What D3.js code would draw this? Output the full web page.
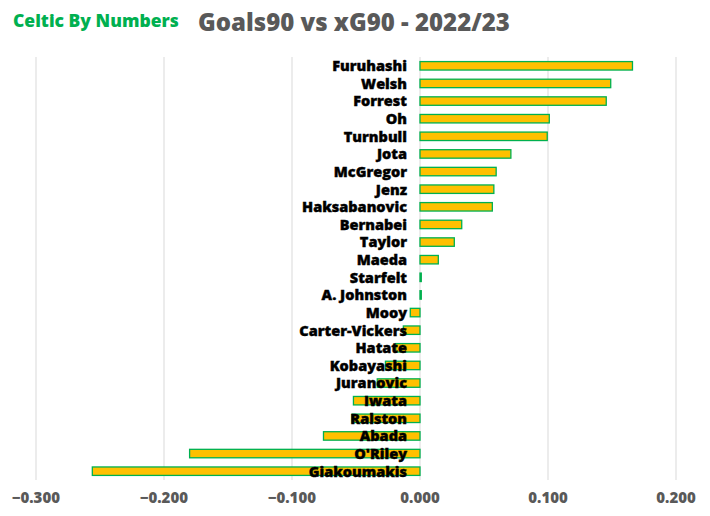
<!DOCTYPE html>
<html><head><meta charset="utf-8">
<script src="https://cdn.jsdelivr.net/npm/d3@7"></script>
<style>body{margin:0;background:#fff}</style>
</head><body>
<svg id="c" width="710" height="516"></svg>
<script>
const players = ["Furuhashi","Welsh","Forrest","Oh","Turnbull","Jota","McGregor","Jenz","Haksabanovic","Bernabei","Taylor","Maeda","Starfelt","A. Johnston","Mooy","Carter-Vickers","Hatate","Kobayashi","Juranovic","Iwata","Ralston","Abada","O'Riley","Giakoumakis"];
const diffs = [0.166,0.149,0.1455,0.101,0.0994,0.071,0.0595,0.0577,0.0565,0.0326,0.0268,0.0143,0.001,0.001,-0.0076,-0.013,-0.019,-0.027,-0.0334,-0.052,-0.053,-0.0754,-0.180,-0.256];
const ticks = [-0.3,-0.2,-0.1,0,0.1,0.2];

const svg = d3.select("#c");
const x = d3.scaleLinear().domain([-0.3,0.2]).range([36,676]);
const y = d3.scaleBand().domain(players).range([57,480]).paddingInner(0.52).paddingOuter(0.26);

svg.append("g").selectAll("line").data(ticks).join("line")
  .attr("x1",d=>x(d)).attr("x2",d=>x(d)).attr("y1",57).attr("y2",480)
  .attr("stroke","#d9d9d9").attr("stroke-width",1);

svg.append("g").selectAll("rect").data(players).join("rect")
  .attr("x",(d,i)=>Math.min(x(0),x(diffs[i])))
  .attr("width",(d,i)=>Math.abs(x(diffs[i])-x(0)))
  .attr("y",d=>y(d)).attr("height",y.bandwidth())
  .attr("fill","#FFC000").attr("stroke","#00B050").attr("stroke-width",1.3);

svg.append("g").selectAll("text").data(players).join("text")
  .attr("x",407).attr("y",d=>y(d)+y.bandwidth()/2).attr("dy","0.37em")
  .attr("text-anchor","end")
  .style("font-family","'Open Sans', sans-serif").style("font-weight","800").style("font-size","14.5px")
  .attr("fill","#000").attr("stroke","#000").attr("stroke-width",0.4).text(d=>d);

const fmt = d3.format(".3f");
svg.append("g").selectAll("text").data(ticks).join("text")
  .attr("x",d=>x(d)).attr("y",503).attr("text-anchor","middle")
  .style("font-family","'Open Sans', sans-serif").style("font-weight","800").style("font-size","15px")
  .attr("fill","#595959").text(d=>fmt(d));

svg.append("text").attr("x",13).attr("y",27)
  .style("font-family","'Open Sans', sans-serif").style("font-weight","800").style("font-size","17.5px")
  .attr("fill","#00B050").text("Celtic By Numbers");
svg.append("text").attr("x",198).attr("y",31)
  .style("font-family","'Open Sans', sans-serif").style("font-weight","800").style("font-size","24px")
  .attr("fill","#595959").text("Goals90 vs xG90 - 2022/23");
</script>
</body></html>
